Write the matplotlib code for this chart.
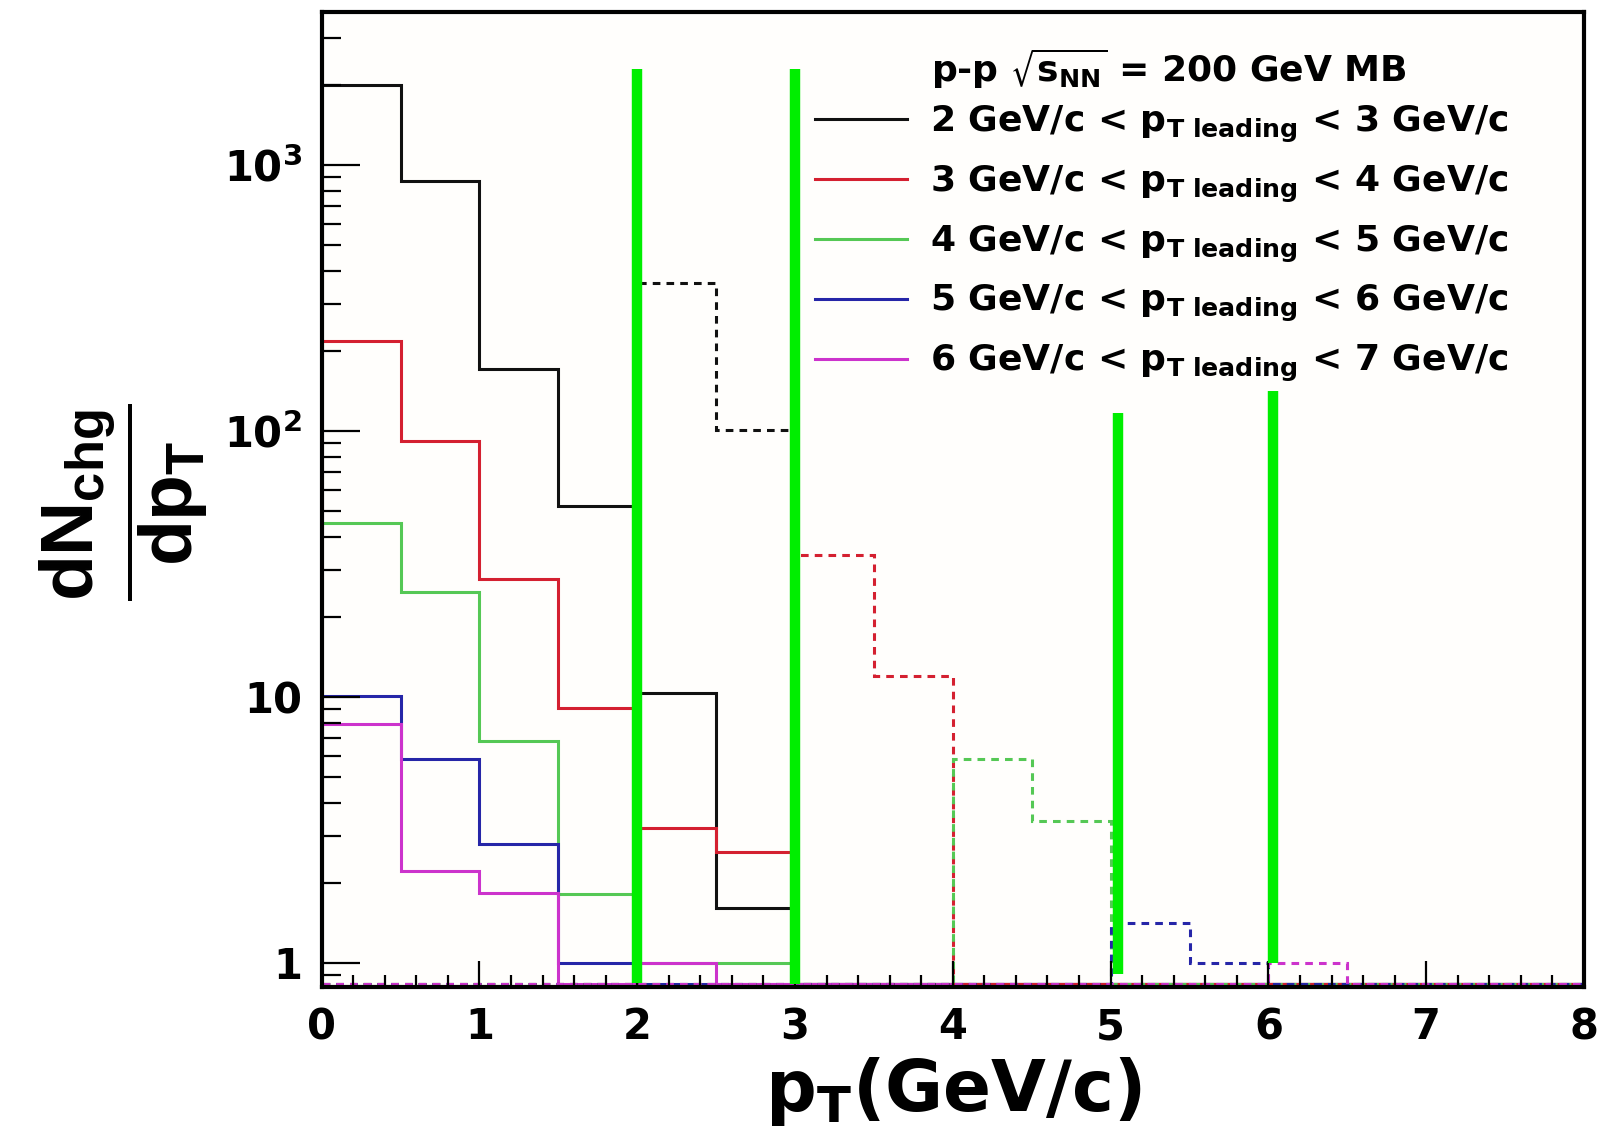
import numpy as np
import matplotlib
matplotlib.use('Agg')
import matplotlib.pyplot as plt
from matplotlib import font_manager
from matplotlib.lines import Line2D
from matplotlib.ticker import FixedLocator, MultipleLocator, NullFormatter

installed = {f.name for f in font_manager.fontManager.ttflist}
ylab_font = 'Liberation Sans Narrow' if 'Liberation Sans Narrow' in installed else 'Liberation Sans'

plt.rcParams['font.family'] = ['DejaVu Sans']
plt.rcParams['font.weight'] = 'bold'
plt.rcParams['mathtext.fontset'] = 'dejavusans'
# the custom set is only used by the y label
plt.rcParams['mathtext.rm'] = ylab_font + ':bold'
plt.rcParams['mathtext.it'] = ylab_font + ':bold'
plt.rcParams['mathtext.bf'] = ylab_font + ':bold'
plt.rcParams['mathtext.sf'] = ylab_font + ':bold'

# bin edges in pT (GeV/c), 0.5 GeV/c bins
edges = np.arange(0, 8.01, 0.5)

# associated-particle spectra (solid), one per leading pT window
black_assoc = [2000, 870, 171, 52, 10.3, 1.6, 0, 0, 0, 0, 0, 0, 0, 0, 0, 0]
red_assoc = [218, 92, 27.8, 9.1, 3.2, 2.6, 0, 0, 0, 0, 0, 0, 0, 0, 0, 0]
green_assoc = [45, 24.8, 6.8, 1.82, 1.0, 1.0, 0, 0, 0, 0, 0, 0, 0, 0, 0, 0]
blue_assoc = [10.1, 5.85, 2.8, 1.0, 0, 0, 0, 0, 0, 0, 0, 0, 0, 0, 0, 0]
magenta_assoc = [7.9, 2.22, 1.83, 0, 1.0, 0, 0, 0, 0, 0, 0, 0, 0, 0, 0, 0]

# leading-particle spectra (dashed)
black_lead = [0, 0, 0, 0, 360, 101, 0, 0, 0, 0, 0, 0, 0, 0, 0, 0]
red_lead = [0, 0, 0, 0, 0, 0, 34, 12, 0, 0, 0, 0, 0, 0, 0, 0]
green_lead = [0, 0, 0, 0, 0, 0, 0, 0, 5.85, 3.4, 0, 0, 0, 0, 0, 0]
blue_lead = [0, 0, 0, 0, 0, 0, 0, 0, 0, 0, 1.41, 1.0, 0, 0, 0, 0]
magenta_lead = [0, 0, 0, 0, 0, 0, 0, 0, 0, 0, 0, 0, 1.0, 0, 0, 0]

header = r'p-p $\mathbf{\sqrt{s_{NN}}}$ = 200 GeV MB'
labels = [
    r'2 GeV/c < $\mathbf{p_{T\ leading}}$ < 3 GeV/c',
    r'3 GeV/c < $\mathbf{p_{T\ leading}}$ < 4 GeV/c',
    r'4 GeV/c < $\mathbf{p_{T\ leading}}$ < 5 GeV/c',
    r'5 GeV/c < $\mathbf{p_{T\ leading}}$ < 6 GeV/c',
    r'6 GeV/c < $\mathbf{p_{T\ leading}}$ < 7 GeV/c',
]
colors = ['#111111', '#d42030', '#55c855', '#2626a8', '#cc33cc']

# green marker lines drawn over the plot
marker_x = [2.0, 3.0, 5.05, 6.03]
marker_top = [2300, 2300, 117, 141]
marker_bottom = [0.84, 0.83, 0.905, 1.0]

ytick_vals = [1, 10, 100, 1000]
ytick_labels = ['1', '10', r'$\mathbf{10^{2}}$', r'$\mathbf{10^{3}}$']

ymin, ymax = 0.81, 3760

fig = plt.figure(figsize=(16, 11.47), dpi=100)
ax = fig.add_axes([0.201, 0.1395, 0.789, 0.85])
ax.set_facecolor('#fffefc')
ax.set_yscale('log')
ax.set_xlim(0, 8)
ax.set_ylim(ymin, ymax)

assoc = [black_assoc, red_assoc, green_assoc, blue_assoc, magenta_assoc]
lead = [black_lead, red_lead, green_lead, blue_lead, magenta_lead]
floor = ymin * 1.025

for vals, c in zip(assoc, colors):
    ax.stairs(np.maximum(vals, floor), edges, baseline=None, color=c, lw=2.2)
for vals, c in zip(lead, colors):
    ax.stairs(np.maximum(vals, floor), edges, baseline=None, color=c, lw=2.2,
              linestyle=(0, (2.5, 2)))

for x, t, b in zip(marker_x, marker_top, marker_bottom):
    ax.plot([x, x], [b, t], color='#00ee00', lw=7.5, solid_capstyle='butt', zorder=5)

# axes styling, ROOT look
for s in ax.spines.values():
    s.set_linewidth(3)
ax.yaxis.set_major_locator(FixedLocator(ytick_vals))
ax.set_yticklabels(ytick_labels)
ax.yaxis.set_minor_locator(FixedLocator([m * 10 ** e for e in range(-1, 4) for m in range(2, 10)]))
ax.yaxis.set_minor_formatter(NullFormatter())
ax.xaxis.set_major_locator(MultipleLocator(1))
ax.xaxis.set_minor_locator(MultipleLocator(0.2))
ax.tick_params(axis='both', which='both', direction='in', width=1.6, top=False, right=False)
ax.tick_params(axis='y', which='major', length=27, labelsize=30, pad=14)
ax.tick_params(axis='y', which='minor', length=14)
ax.tick_params(axis='x', which='major', length=19, labelsize=30, pad=14)
ax.tick_params(axis='x', which='minor', length=9)

handles = [Line2D([], [], color=c, lw=2.2) for c in colors]
ax.legend(handles, labels, loc='upper left', bbox_to_anchor=(0.391, 0.906),
          frameon=False, fontsize=26, handlelength=2.55, handletextpad=0.62,
          labelspacing=0.52, borderpad=0, borderaxespad=0)
fig.text(0.582, 0.9289, header, ha='left', va='baseline', fontsize=26)

fig.text(0.596, 0.048, r'$\mathbf{p_{T}}$(GeV/c)', ha='center', va='center', fontsize=51)
fig.text(0.077, 0.562, r'$\dfrac{dN_{chg}}{dp_{T}}$', ha='center',
         va='center', rotation=90, fontsize=54, math_fontfamily='custom')

fig.savefig('out.png', dpi=100)
